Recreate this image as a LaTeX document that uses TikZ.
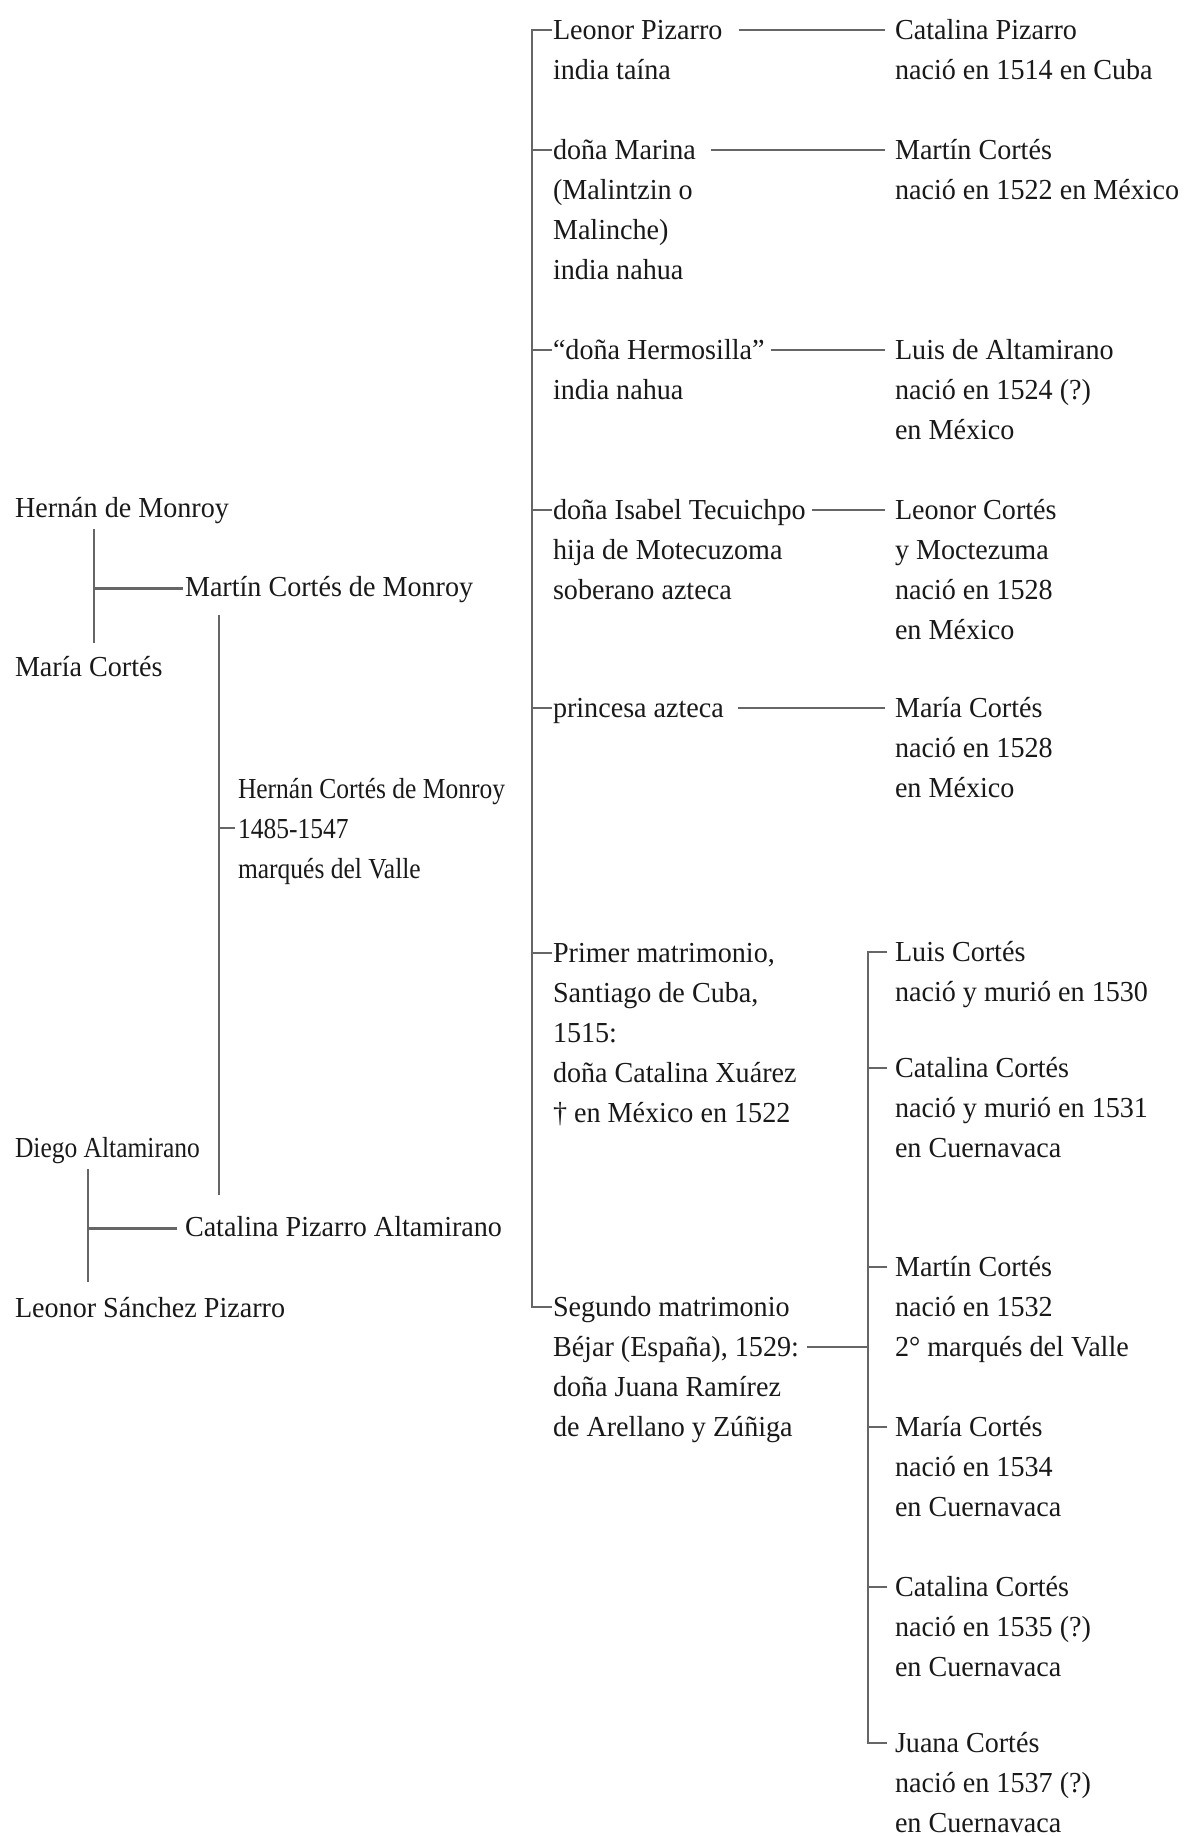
\documentclass[tikz,border=0pt]{standalone}
\usepackage{fontspec}
\setmainfont{Liberation Serif}[FakeStretch=0.97]
\newfontfamily\narrowfont{Liberation Serif}[FakeStretch=0.88]
\newcommand{\famfont}{\fontsize{16.5pt}{0.8cm}\selectfont}
\newcommand{\ls}{\rule[-6.8pt]{0pt}{22.7pt}}
\begin{document}
\begin{tikzpicture}[x=0.02cm, y=-0.02cm,
    person/.style={anchor=north west, inner sep=0pt, outer sep=0pt, yshift=0.37cm,
        align=left, font=\famfont, text=black!90},
    narrow/.style={font=\narrowfont\famfont},
    fl/.style={yshift=-0.37cm},
    sl/.style={yshift=-1.17cm},
    link/.style={line width=1.2pt, black!60}]
    \useasboundingbox (0,0) rectangle (1187,1836);
    % padres y abuelos
    \node[person] (hmon) at (15,508) {\ls Hernán de Monroy};
    \node[person] (mcor) at (15,667) {\ls María Cortés};
    \node[person] (mcm) at (185,587) {\ls Martín Cortés de Monroy};
    \node[person, narrow] (hcm) at (238,789) {\ls Hernán Cortés de Monroy\\1485-1547\\marqués del Valle};
    \node[person, narrow] (dalt) at (15,1148) {\ls Diego Altamirano};
    \node[person] (lsp) at (15,1308) {\ls Leonor Sánchez Pizarro};
    \node[person] (cpa) at (185,1227) {\ls Catalina Pizarro Altamirano};
    \coordinate (cm1) at (94,0);
    \coordinate (cm2) at (219,0);
    \coordinate (cm3) at (88,0);
    \draw[link,shorten >=0.11cm] (cm1 |- hmon.south) -- (cm1 |- mcor.north);
    \draw[link] (cm1 |- mcm.west) -- ([xshift=-0.04cm]mcm.west);
    \draw[link,shorten <=0.13cm,shorten >=0.27cm] (cm2 |- mcm.south) -- (cm2 |- cpa.north);
    \draw[link] (cm2 |- hcm.west) -- ([xshift=-0.06cm]hcm.west);
    \draw[link,shorten >=0.15cm] (cm3 |- dalt.south) -- (cm3 |- lsp.north);
    \draw[link] (cm3 |- cpa.west) -- ([xshift=-0.16cm]cpa.west);
    % mujeres y esposas
    \node[person] (lp) at (553,30) {\ls Leonor Pizarro\\india taína};
    \node[person] (dm) at (553,150) {\ls doña Marina\\(Malintzin o\\Malinche)\\india nahua};
    \node[person] (dh) at (553,350) {\ls “doña Hermosilla”\\india nahua};
    \node[person] (it) at (553,510) {\ls doña Isabel Tecuichpo\\hija de Motecuzoma\\soberano azteca};
    \node[person] (pa) at (553,708) {\ls princesa azteca};
    \node[person] (pm) at (553,953) {\ls Primer matrimonio,\\Santiago de Cuba,\\1515:\\doña Catalina Xuárez\\† en México en 1522};
    \node[person] (sm) at (553,1307) {\ls Segundo matrimonio\\Béjar (España), 1529:\\doña Juana Ramírez\\de Arellano y Zúñiga};
    % hijos
    \node[person] (cp) at (895,30) {\ls Catalina Pizarro\\nació en 1514 en Cuba};
    \node[person] (mt) at (895,150) {\ls Martín Cortés\\nació en 1522 en México};
    \node[person] (la) at (895,350) {\ls Luis de Altamirano\\nació en 1524 (?)\\en México};
    \node[person] (lc) at (895,510) {\ls Leonor Cortés\\y Moctezuma\\nació en 1528\\en México};
    \node[person] (mac) at (895,708) {\ls María Cortés\\nació en 1528\\en México};
    \node[person] (lu) at (895,952) {\ls Luis Cortés\\nació y murió en 1530};
    \node[person] (cc1) at (895,1068) {\ls Catalina Cortés\\nació y murió en 1531\\en Cuernavaca};
    \node[person] (mn) at (895,1267) {\ls Martín Cortés\\nació en 1532\\2° marqués del Valle};
    \node[person] (mr) at (895,1427) {\ls María Cortés\\nació en 1534\\en Cuernavaca};
    \node[person] (cc2) at (895,1587) {\ls Catalina Cortés\\nació en 1535 (?)\\en Cuernavaca};
    \node[person] (jc) at (895,1743) {\ls Juana Cortés\\nació en 1537 (?)\\en Cuernavaca};
    \foreach \n in {lp,dm,dh,it,pa,pm,sm,cp,mt,la,lc,mac,lu,cc1,mn,mr,cc2,jc}
        \coordinate (\n-t) at ([fl]\n.north west);
    % linea de Hernán Cortés
    \coordinate (spine) at (532,0);
    \draw[link] ([xshift=-0.02cm]lp-t) -| (spine |- sm-t) -- ([xshift=-0.02cm]sm-t);
    \foreach \n in {dm,dh,it,pa,pm}
        \draw[link] (spine |- \n-t) -- ([xshift=-0.02cm]\n-t);
    \foreach \m/\h/\g in {lp/cp/0.34cm,dm/mt/0.3cm,dh/la/0.12cm,it/lc/0.12cm,pa/mac/0.28cm}
        \draw[link] ([fl,xshift=\g]\m.north east) -- ([xshift=-0.2cm]\h-t);
    % hijos del segundo matrimonio
    \coordinate (kids) at (868,0);
    \draw[link] ([xshift=-0.16cm]lu-t) -| (kids |- jc-t) -- ([xshift=-0.16cm]jc-t);
    \foreach \n in {cc1,mn,mr,cc2}
        \draw[link] (kids |- \n-t) -- ([xshift=-0.16cm]\n-t);
    \coordinate (sm-s) at ([sl]sm.north east);
    \draw[link] ([xshift=0.16cm]sm-s) -- (kids |- sm-s);
\end{tikzpicture}
\end{document}
